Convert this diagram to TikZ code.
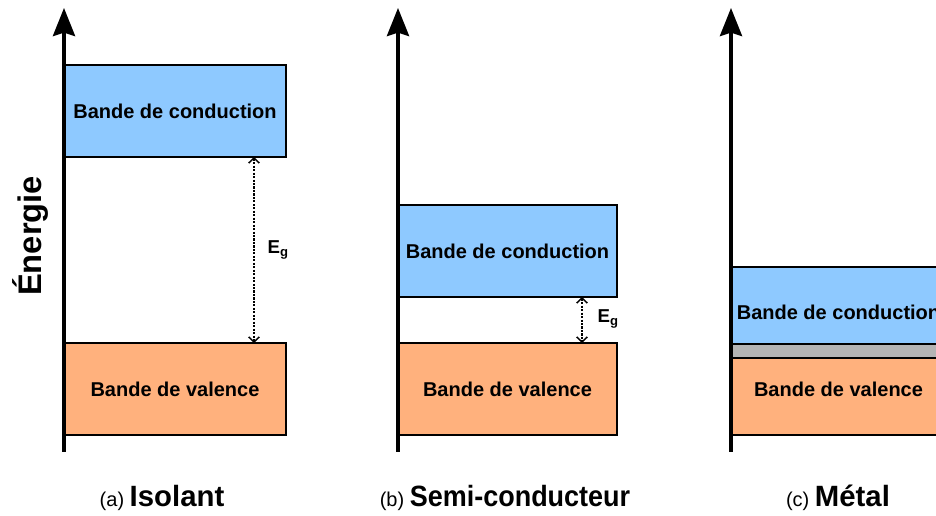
\documentclass[tikz,border=0pt]{standalone}
\usepackage{fontspec}
\setmainfont{Liberation Sans}
\usetikzlibrary{arrows.meta}

\definecolor{condblue}{RGB}{142,201,255}
\definecolor{valorange}{RGB}{255,177,125}
\definecolor{overlapgray}{RGB}{180,180,180}

\newcommand{\captitle}{\bfseries\fontsize{22}{26}\selectfont}

\begin{document}
\begin{tikzpicture}[x=0.75pt,y=0.75pt,yscale=-1,xscale=1,
    axis/.style={line width=2.8pt,-{Stealth[length=21pt,width=16.5pt,inset=2.5pt]}},
    band/.style={draw,line width=1.5pt,anchor=north west,inner sep=0pt,outer sep=0pt,
      font=\bfseries\fontsize{15}{18}\selectfont},
    cond/.style={band,fill=condblue},
    val/.style={band,fill=valorange},
    bandtext/.style={font=\bfseries\fontsize{15}{18}\selectfont},
    gap/.style={line width=1.1pt,dash pattern=on 1.6pt off 1pt,
      {Straight Barb[length=3.8pt,width=8pt]}-{Straight Barb[length=3.8pt,width=8pt]}},
    gaplabel/.style={anchor=west,font=\bfseries\fontsize{14}{16}\selectfont},
    caption/.style={anchor=base,font=\fontsize{15}{18}\selectfont}]
    \useasboundingbox (0,0) rectangle (936,516);
    \clip (0,0) rectangle (936,516);

    % (a) isolant
    \node[cond,minimum width=166.5pt,minimum height=69pt] (cbA) at (64,65) {Bande de conduction};
    \node[val,minimum width=166.5pt,minimum height=69pt] (vbA) at (64,343) {Bande de valence};
    \coordinate (gA) at (254,0);
    \draw[gap] (cbA.south -| gA) -- (vbA.north -| gA);
    \node[gaplabel] (egA) at (263,250) {E\textsubscript{g}};

    % (b) semi-conducteur
    \node[cond,minimum width=164.25pt,minimum height=69pt] (cbB) at (398,205) {Bande de conduction};
    \node[val,minimum width=164.25pt,minimum height=69pt] (vbB) at (398,343) {Bande de valence};
    \coordinate (gB) at (582,0);
    \draw[gap] (cbB.south -| gB) -- (vbB.north -| gB);
    \node[gaplabel] (egB) at (593,319) {E\textsubscript{g}};

    % (c) metal : the bands overlap
    \node[cond,minimum width=161.25pt,minimum height=57.75pt] (cbC) at (731,267) {};
    \node[band,fill=overlapgray,minimum width=161.25pt,minimum height=10.5pt] (ovC) at (731,344) {};
    \node[val,minimum width=161.25pt,minimum height=57.75pt] (vbC) at (731,358) {};
    \node[bandtext] (ctC) at ([yshift=4.9pt]cbC.center) {Bande de conduction};
    \node[bandtext] (vtC) at ([yshift=-5.6pt]vbC.center) {Bande de valence};

    % energy axes
    \foreach \n/\x in {A/64,B/398,C/731}{
      \coordinate (bot\n) at (\x,452);
      \coordinate (top\n) at (\x,8);
      \draw[axis] (bot\n) -- (top\n);
    }
    \node[rotate=90,font=\bfseries\fontsize{24.5}{28}\selectfont] (energie) at (30,236) {Énergie};

    % captions
    \node[caption] (capA) at (162,507) {(a)\ {\captitle Isolant}};
    \node[caption] (capB) at (505,507) {(b)\ \scalebox{0.92}[1]{\captitle Semi-conducteur}};
    \node[caption] (capC) at (838,507) {(c)\ {\captitle Métal}};
\end{tikzpicture}
\end{document}
